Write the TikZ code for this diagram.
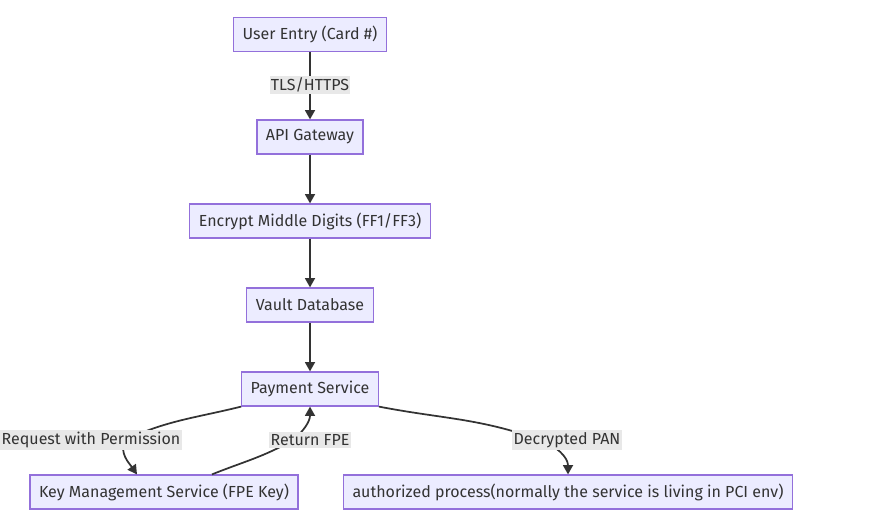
\documentclass[tikz,border=0pt]{standalone}
\usepackage{fontspec}
\setmainfont{Fira Sans}
\usetikzlibrary{arrows.meta,positioning,calc}
\definecolor{boxfill}{HTML}{ECECFF}
\definecolor{boxline}{HTML}{9370DB}
\definecolor{ink}{HTML}{333333}
\definecolor{labelbg}{HTML}{E8E8E8}

\begin{document}
\begin{tikzpicture}[
    x=0.75pt, y=0.75pt,
    font=\fontsize{12}{14}\selectfont,
    >={Triangle[length=7pt, width=7.5pt]},
    stage/.style={draw=boxline, fill=boxfill, line width=0.9pt, text=ink, minimum height=25.5pt, inner xsep=6.75pt},
    flow/.style={->, draw=ink, line width=1.3pt},
    edgelabel/.style={fill=labelbg, text=ink, inner xsep=1pt, inner ysep=1.5pt},
]
    \useasboundingbox (0,0) rectangle (892,-527);

    % =====================================================================
    % Main pipeline
    % =====================================================================
    \node[stage] (user) at (310, -34.5) {User Entry (Card \#)};
    \node[stage] (api) at (310, -137) {API Gateway};
    \node[stage] (enc) at (310, -221) {Encrypt Middle Digits (FF1/FF3)};
    \node[stage] (vault) at (310, -305) {Vault Database};
    \node[stage] (pay) at (310, -389) {Payment Service};

    % Consumers
    \node[stage] (kms) at (164, -492) {Key Management Service (FPE Key)};
    \node[stage] (auth) at (568, -492) {authorized process(normally the service is living in PCI env)};

    % Straight links
    \draw[flow] (user) -- (api);
    \draw[flow] (api) -- (enc);
    \draw[flow] (enc) -- (vault);
    \draw[flow] (vault) -- (pay);

    % Curved links
    \draw[flow] (pay.south west) to[out=194, in=25] (125, -440) to[out=-115, in=125] ($(kms.north)+(-27,0)$);
    \draw[flow] ($(kms.north)+(48,0)$) to[out=22, in=-150] (293, -440) to[out=40, in=-90] (pay.south);
    \draw[flow] (pay.south east) to[out=-11, in=160] (540, -440) to[out=-20, in=90] (auth.north);

    % Edge labels
    \node[edgelabel] (tls) at (310, -85) {TLS/HTTPS};
    \node[edgelabel] (req) at (91, -440) {Request with Permission};
    \node[edgelabel] (ret) at (310, -440) {Return FPE};
    \node[edgelabel] (dec) at (567, -440) {Decrypted PAN};

\end{tikzpicture}
\end{document}
